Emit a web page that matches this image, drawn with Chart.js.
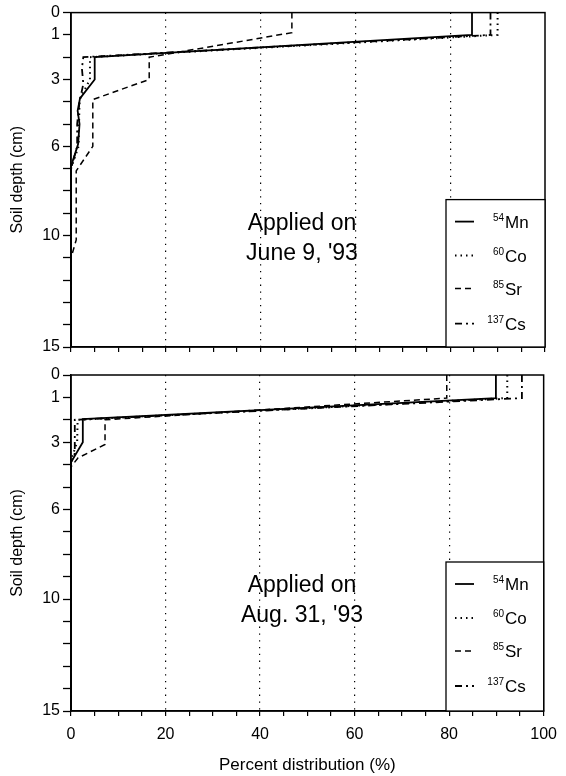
<!DOCTYPE html>
<html>
<head>
<meta charset="utf-8">
<script src="https://cdn.jsdelivr.net/npm/chart.js@4/dist/chart.umd.min.js"></script>
<style>
  html, body { margin: 0; padding: 0; background: #fff; }
  #wrap { position: relative; width: 566px; height: 776px; }
  canvas { position: absolute; left: 0; }
  #topChart { top: 0; }
  #bottomChart { top: 362px; }
</style>
</head>
<body>
<div id="wrap">
  <canvas id="topChart" width="566" height="362"></canvas>
  <canvas id="bottomChart" width="566" height="414"></canvas>
</div>
<script>
// axis ticks
const depthTicks = [0, 1, 2, 3, 4, 5, 6, 7, 8, 9, 10, 11, 12, 13, 14, 15];
const depthLabels = [0, 1, 3, 6, 10, 15];
const pctTicks = [0, 5, 10, 15, 20, 25, 30, 35, 40, 45, 50, 55, 60, 65, 70, 75, 80, 85, 90, 95, 100];
const pctLabels = [0, 20, 40, 60, 80, 100];
const pctGrid = [20, 40, 60, 80];

const nuclides = ["Mn", "Co", "Sr", "Cs"];
const massNumbers = ["54", "60", "85", "137"];

// Applied on June 9, '93
const mnJuneDepth = [0, 1, 2, 3, 3.85, 4.4, 5, 5.9, 6.9, 15];
const mnJunePct = [84.6, 84.6, 5, 5, 1.9, 1.4, 1.8, 1.5, 0, 0];
const coJuneDepth = [0, 1, 2, 3, 3.9, 6, 7, 15];
const coJunePct = [90, 90, 4, 4, 1.8, 1.6, 0, 0];
const srJuneDepth = [0, 0.9, 2, 3, 3.9, 6, 7.1, 10.2, 11, 15];
const srJunePct = [46.6, 46.6, 16.5, 16.5, 4.6, 4.6, 1.1, 1.1, 0, 0];
const csJuneDepth = [0, 1, 2, 2.5, 3.2, 3.6, 4, 5, 6, 7, 15];
const csJunePct = [88.5, 88.5, 2.6, 2.3, 2.6, 2.2, 1.8, 1.3, 1.3, 0, 0];

// Applied on Aug. 31, '93
const mnAugDepth = [0, 1.03, 1.97, 3, 3.9, 15];
const mnAugPct = [89.9, 89.9, 2.5, 2.5, 0, 0];
const coAugDepth = [0, 1.03, 2, 3, 3.8, 15];
const coAugPct = [92.3, 92.3, 1.4, 1.3, 0, 0];
const srAugDepth = [0, 1.03, 2, 3.1, 3.7, 4.1, 15];
const srAugPct = [79.5, 79.5, 7.2, 7.2, 1.5, 0, 0];
const csAugDepth = [0, 1.03, 2, 3.5, 3.9, 15];
const csAugPct = [95.4, 95.4, 0.8, 0.8, 0, 0];

const FONT = "'Liberation Sans', Arial, Helvetica, sans-serif";
const styles = {
  Mn: { dash: [], width: 1.8 },
  Co: { dash: [1.5, 4], width: 2 },
  Sr: { dash: [6, 4], width: 1.5 },
  Cs: { dash: [7, 4, 2, 4], width: 1.8 },
};

function toPoints(pct, depth) {
  return pct.map((v, i) => ({ x: v, y: depth[i] }));
}

function makeSet(name, pct, depth) {
  return {
    label: name,
    data: toPoints(pct, depth),
    showLine: true,
    borderColor: "#000",
    borderWidth: styles[name].width,
    borderDash: styles[name].dash,
    pointRadius: 0,
    tension: 0,
    fill: false,
  };
}

// box around the plot, caption and legend
const panelPlugin = {
  id: "panel",
  afterDraw(chart, args, opts) {
    const { ctx, chartArea: a } = chart;
    ctx.save();
    ctx.strokeStyle = "#000";
    ctx.lineWidth = 1.5;
    ctx.setLineDash([]);
    ctx.strokeRect(a.left, a.top, a.right - a.left, a.bottom - a.top);

    // caption
    ctx.fillStyle = "#000";
    ctx.font = "23px " + FONT;
    ctx.textAlign = "center";
    ctx.textBaseline = "middle";
    ctx.fillText("Applied on", 302, a.top + 211);
    ctx.fillText(opts.date, 302, a.top + 241);

    // legend
    const bx = 446, by = a.top + 187;
    ctx.fillStyle = "#fff";
    ctx.fillRect(bx, by, a.right - bx, a.bottom - by);
    ctx.lineWidth = 1.3;
    ctx.strokeRect(bx, by, a.right - bx, a.bottom - by);
    const rows = [209, 243, 276, 311];
    nuclides.forEach((n, i) => {
      const y = a.top + rows[i];
      ctx.beginPath();
      ctx.lineWidth = styles[n].width;
      ctx.setLineDash(styles[n].dash);
      ctx.moveTo(455, y);
      ctx.lineTo(474, y);
      ctx.stroke();
      ctx.setLineDash([]);
      ctx.fillStyle = "#000";
      ctx.textAlign = "right";
      ctx.textBaseline = "alphabetic";
      ctx.font = "10px " + FONT;
      ctx.fillText(massNumbers[i], 504, y - 1);
      ctx.textAlign = "left";
      ctx.font = "17px " + FONT;
      ctx.fillText(n, 505, y + 6);
    });
    ctx.restore();
  },
};

function makeConfig(sets, date, showX, padTop, xHeight) {
  return {
    type: "scatter",
    data: { datasets: sets },
    plugins: [panelPlugin],
    options: {
      responsive: false,
      animation: false,
      layout: { padding: { top: padTop, right: 21, left: 0, bottom: 0 } },
      plugins: {
        legend: { display: false },
        tooltip: { enabled: false },
        panel: { date: date },
      },
      scales: {
        x: {
          type: "linear",
          min: 0,
          max: 100,
          afterBuildTicks: (s) => { s.ticks = pctTicks.map((v) => ({ value: v })); },
          afterFit: (s) => { s.height = xHeight; },
          ticks: {
            autoSkip: false,
            maxRotation: 0,
            padding: 9,
            color: "#000",
            font: { size: 16, family: FONT },
            callback: (v) => (showX && pctLabels.includes(v) ? String(v) : ""),
          },
          grid: {
            drawOnChartArea: true,
            drawTicks: true,
            tickLength: 5,
            tickColor: "#000",
            tickWidth: 1.2,
            lineWidth: 1.2,
            color: (c) => (c.tick && pctGrid.includes(c.tick.value) ? "#000" : "rgba(0,0,0,0)"),
          },
          border: { display: true, color: "#000", width: 1.5, dash: [1.3, 5.5] },
          title: {
            display: showX,
            text: "Percent distribution (%)",
            color: "#000",
            font: { size: 17, family: FONT },
            padding: { top: 0, bottom: 0 },
          },
        },
        y: {
          type: "linear",
          reverse: true,
          min: 0,
          max: 15,
          afterBuildTicks: (s) => { s.ticks = depthTicks.map((v) => ({ value: v })); },
          afterFit: (s) => { s.width = 71; },
          ticks: {
            autoSkip: false,
            padding: 3,
            color: "#000",
            font: { size: 16, family: FONT },
            callback: (v) => (depthLabels.includes(v) ? String(v) : ""),
          },
          grid: {
            drawOnChartArea: false,
            drawTicks: true,
            tickLength: 8,
            tickColor: "#000",
            tickWidth: 1.3,
          },
          border: { display: true, color: "#000", width: 1.5 },
          title: {
            display: true,
            text: "Soil depth (cm)",
            color: "#000",
            font: { size: 16, family: FONT },
            padding: { top: 8, bottom: 0 },
          },
        },
      },
    },
  };
}

const juneSets = [
  makeSet("Mn", mnJunePct, mnJuneDepth),
  makeSet("Co", coJunePct, coJuneDepth),
  makeSet("Sr", srJunePct, srJuneDepth),
  makeSet("Cs", csJunePct, csJuneDepth),
];
const augSets = [
  makeSet("Mn", mnAugPct, mnAugDepth),
  makeSet("Co", coAugPct, coAugDepth),
  makeSet("Sr", srAugPct, srAugDepth),
  makeSet("Cs", csAugPct, csAugDepth),
];

new Chart(document.getElementById("topChart").getContext("2d"),
  makeConfig(juneSets, "June 9, '93", false, 12, 15));
new Chart(document.getElementById("bottomChart").getContext("2d"),
  makeConfig(augSets, "Aug. 31, '93", true, 13, 65));
</script>
</body>
</html>
